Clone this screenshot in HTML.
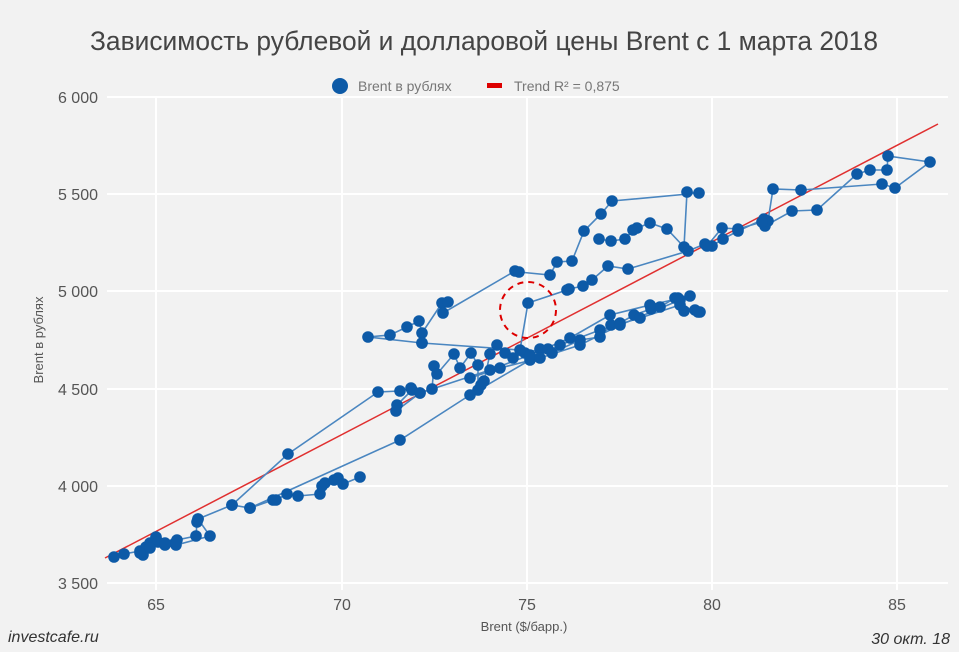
<!DOCTYPE html>
<html><head><meta charset="utf-8"><style>
html,body{margin:0;padding:0;background:#f2f2f2;}
svg{display:block;font-family:"Liberation Sans",sans-serif;}
</style></head><body>
<svg width="959" height="652" viewBox="0 0 959 652">
<rect width="959" height="652" fill="#f2f2f2"/>
<text x="484" y="50" text-anchor="middle" font-size="26.5" fill="#444" textLength="788" lengthAdjust="spacingAndGlyphs">Зависимость рублевой и долларовой цены Brent с 1 марта 2018</text>
<circle cx="340" cy="86" r="8" fill="#0d5aa7"/>
<text x="358" y="91" font-size="14" fill="#777">Brent в рублях</text>
<rect x="487" y="83" width="15" height="5" fill="#d00"/>
<text x="514" y="91" font-size="14" fill="#777">Trend R² = 0,875</text>
<g stroke="#fff" stroke-width="2">
<line x1="107" y1="97" x2="948" y2="97"/><line x1="107" y1="194" x2="948" y2="194"/>
<line x1="107" y1="291" x2="948" y2="291"/><line x1="107" y1="389" x2="948" y2="389"/>
<line x1="107" y1="486" x2="948" y2="486"/><line x1="107" y1="583" x2="948" y2="583"/>
<line x1="156" y1="97" x2="156" y2="590"/><line x1="342" y1="97" x2="342" y2="590"/>
<line x1="527" y1="97" x2="527" y2="590"/><line x1="712" y1="97" x2="712" y2="590"/>
<line x1="897" y1="97" x2="897" y2="590"/>
</g>
<g font-size="16" fill="#555" text-anchor="end">
<text x="98" y="103">6 000</text><text x="98" y="200">5 500</text><text x="98" y="297">5 000</text>
<text x="98" y="395">4 500</text><text x="98" y="492">4 000</text><text x="98" y="589">3 500</text>
</g>
<g font-size="16" fill="#555" text-anchor="middle">
<text x="156" y="610">65</text><text x="342" y="610">70</text><text x="527" y="610">75</text>
<text x="712" y="610">80</text><text x="897" y="610">85</text>
</g>
<text x="524" y="631" text-anchor="middle" font-size="13" fill="#555">Brent ($/барр.)</text>
<text transform="translate(43,340) rotate(-90)" text-anchor="middle" font-size="13" fill="#555">Brent в рублях</text>
<text x="8" y="642" font-size="16" font-style="italic" fill="#333">investcafe.ru</text>
<text x="950" y="644" text-anchor="end" font-size="16" font-style="italic" fill="#333">30 окт. 18</text>
<line x1="105" y1="558" x2="938" y2="124" stroke="#e03030" stroke-width="1.5"/>
<g id="s" fill="none" stroke="#4a86c0" stroke-width="1.6">
<polyline points="114,557 124,554 140,551 143,555 146,547 150,543 156,537 158,542 165,545 175,543 177,540 196,536 197,522 198,519 210,536 176,545 165,543 150,548 140,553"/>
<polyline points="198,519 232,505 250,508 273,500 276,500 287,494 298,496 320,494 322,486 325,483 334,480 338,478 343,484 360,477"/>
<polyline points="232,505 288,454 378,392 400,391 411,388 412,390 397,405 396,411 420,393 432,389 434,366 437,374 454,354 460,368 471,353 478,365 478,390 481,385 484,381 490,354 497,345 505,353 513,358 525,353 540,349 548,349 552,353 580,340 600,337 611,325 620,323 634,315 651,309 660,307 675,298 678,298 684,311 695,310 700,312"/>
<polyline points="250,508 400,440 470,395 530,360 560,345 600,330 640,318 680,305 698,312"/>
<polyline points="420,393 490,370 530,355 570,338 610,315 650,305 690,296 680,300 620,325 580,345 540,358 500,368 470,378"/>
<polyline points="422,343 368,337 390,335 407,327 419,321 422,333 442,303 448,302 443,313 515,271 519,272 550,275 557,262 572,261 584,231 601,214 612,201 699,193 687,192 684,247 667,229 650,223 637,228 633,230 625,239 611,241 599,239"/>
<polyline points="422,343 520,350 528,303 567,290 569,289 583,286 592,280 608,266 628,269 688,251 705,244 712,246 723,239 738,231 764,219 765,226 792,211 817,210 857,174 870,170 887,170 888,156 930,162 895,188 882,184 801,190 773,189 768,221 762,222 738,229 722,228 707,246"/>
</g>
<g id="d" fill="#0d5aa7">
</g>
<script>
var pts=[];document.querySelectorAll('#s polyline').forEach(function(p){p.getAttribute('points').trim().split(/\s+/).forEach(function(q){pts.push(q.split(','));});});
var g=document.getElementById('d');pts.forEach(function(p){var c=document.createElementNS('http://www.w3.org/2000/svg','circle');c.setAttribute('cx',p[0]);c.setAttribute('cy',p[1]);c.setAttribute('r','5.8');g.appendChild(c);});
</script>
<circle cx="528" cy="310" r="28" fill="none" stroke="#d00" stroke-width="2" stroke-dasharray="6,5"/>
</svg>
</body></html>
